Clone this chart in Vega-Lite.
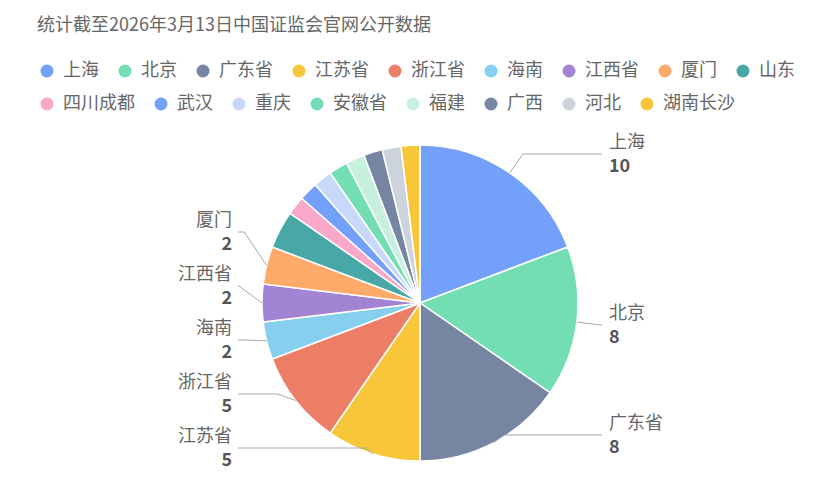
{
  "$schema": "https://vega.github.io/schema/vega-lite/v6.json",
  "autosize": {"type": "none"},
  "padding": {"top": 109, "left": 0, "right": 0, "bottom": 0},
  "width": 840,
  "height": 388,
  "background": "#ffffff",
  "title": {
    "text": "统计截至2026年3月13日中国证监会官网公开数据",
    "anchor": "start",
    "frame": "group",
    "orient": "top",
    "dx": 37,
    "offset": 27,
    "font": "Noto Sans CJK SC",
    "fontSize": 18,
    "fontWeight": "normal",
    "color": "#666666"
  },
  "data": {
    "values": [
      {"idx": 1, "name": "上海", "value": 10},
      {"idx": 2, "name": "北京", "value": 8},
      {"idx": 3, "name": "广东省", "value": 8},
      {"idx": 4, "name": "江苏省", "value": 5},
      {"idx": 5, "name": "浙江省", "value": 5},
      {"idx": 6, "name": "海南", "value": 2},
      {"idx": 7, "name": "江西省", "value": 2},
      {"idx": 8, "name": "厦门", "value": 2},
      {"idx": 9, "name": "山东", "value": 2},
      {"idx": 10, "name": "四川成都", "value": 1},
      {"idx": 11, "name": "武汉", "value": 1},
      {"idx": 12, "name": "重庆", "value": 1},
      {"idx": 13, "name": "安徽省", "value": 1},
      {"idx": 14, "name": "福建", "value": 1},
      {"idx": 15, "name": "广西", "value": 1},
      {"idx": 16, "name": "河北", "value": 1},
      {"idx": 17, "name": "湖南长沙", "value": 1}
    ]
  },
  "transform": [
    {"joinaggregate": [{"op": "sum", "field": "value", "as": "total"}]},
    {"window": [{"op": "sum", "field": "value", "as": "cum"}], "sort": [{"field": "idx", "order": "ascending"}], "frame": [null, 0]},
    {"calculate": "datum.cum - datum.value", "as": "cs"},
    {"calculate": "2 * PI * (datum.cum - datum.value / 2) / datum.total", "as": "ang"}
  ],
  "layer": [
    {
      "transform": [{"filter": "datum.idx <= 9"}],
      "mark": {"type": "arc", "outerRadius": 158, "stroke": "#ffffff", "strokeWidth": 1.5},
      "encoding": {
        "theta": {"field": "cum", "type": "quantitative", "stack": null, "scale": {"zero": true, "nice": false}},
        "theta2": {"field": "cs"},
        "fill": {
          "field": "name",
          "type": "nominal",
          "scale": {
            "domain": ["上海", "北京", "广东省", "江苏省", "浙江省", "海南", "江西省", "厦门", "山东"],
            "range": ["#73A0FA", "#73DEB3", "#7585A2", "#F7C739", "#EB7E65", "#87CFEF", "#A383D4", "#FDAA6A", "#48A8A8"]
          },
          "legend": {
            "orient": "none",
            "legendX": 38,
            "legendY": -47,
            "title": null,
            "direction": "horizontal",
            "symbolType": "circle",
            "symbolSize": 169,
            "symbolStrokeWidth": 0,
            "symbolOpacity": 1,
            "labelFont": "Noto Sans CJK SC",
            "labelFontSize": 18,
            "labelColor": "#666666",
            "labelOffset": 7,
            "columnPadding": 17,
            "labelLimit": 200
          }
        }
      }
    },
    {
      "transform": [{"filter": "datum.idx > 9"}],
      "mark": {"type": "arc", "outerRadius": 158, "stroke": "#ffffff", "strokeWidth": 1.5},
      "encoding": {
        "theta": {"field": "cum", "type": "quantitative", "stack": null},
        "theta2": {"field": "cs"},
        "color": {
          "field": "name",
          "type": "nominal",
          "scale": {
            "domain": ["四川成都", "武汉", "重庆", "安徽省", "福建", "广西", "河北", "湖南长沙"],
            "range": ["#F9A8C9", "#73A0FA", "#C8D8FA", "#73DEB3", "#C7F0DF", "#7585A2", "#CDD3DD", "#F7C739"]
          },
          "legend": {
            "orient": "none",
            "legendX": 38,
            "legendY": -14,
            "title": null,
            "direction": "horizontal",
            "symbolType": "circle",
            "symbolSize": 169,
            "symbolStrokeWidth": 0,
            "symbolOpacity": 1,
            "labelFont": "Noto Sans CJK SC",
            "labelFontSize": 18,
            "labelColor": "#666666",
            "labelOffset": 7,
            "columnPadding": 17,
            "labelLimit": 200
          }
        }
      }
    },
    {
      "transform": [
        {"filter": "datum.idx <= 8"},
        {"calculate": "158 * sin(datum.ang)", "as": "ex"},
        {"calculate": "158 * cos(datum.ang)", "as": "ey"},
        {"calculate": "181 * sin(datum.ang)", "as": "nx"},
        {"calculate": "181 * cos(datum.ang)", "as": "ny"},
        {"calculate": "datum.ang < PI ? 'R' : 'L'", "as": "side"},
        {"calculate": "datum.side == 'R' ? -datum.ang : datum.ang", "as": "skey"},
        {"window": [{"op": "rank", "as": "rk"}], "groupby": ["side"], "sort": [{"field": "skey", "order": "ascending"}]},
        {"calculate": "max(datum.ny, (datum.side == 'R' ? -132 : -145) + 54 * (datum.rk - 1))", "as": "ly"},
        {"calculate": "datum.side == 'R' ? 182 : -182", "as": "endx"},
        {"calculate": "datum.side == 'R' ? 189 : -188", "as": "tx"}
      ],
      "layer": [
        {
          "mark": {"type": "rule", "stroke": "#a8a8a8", "strokeWidth": 1},
          "encoding": {
            "x": {"field": "ex", "type": "quantitative", "scale": {"domain": [-420, 420], "nice": false, "zero": false}, "axis": null},
            "y": {"field": "ey", "type": "quantitative", "scale": {"domain": [-194, 194], "nice": false, "zero": false}, "axis": null},
            "x2": {"field": "nx"},
            "y2": {"field": "ly"}
          }
        },
        {
          "mark": {"type": "rule", "stroke": "#a8a8a8", "strokeWidth": 1},
          "encoding": {
            "x": {"field": "nx", "type": "quantitative"},
            "y": {"field": "ly", "type": "quantitative"},
            "x2": {"field": "endx"},
            "y2": {"field": "ly"}
          }
        },
        {
          "mark": {"type": "text", "font": "Noto Sans CJK SC", "fontSize": 18, "color": "#666666", "baseline": "middle", "dy": -11, "align": {"expr": "datum.side == 'R' ? 'left' : 'right'"}},
          "encoding": {
            "x": {"field": "tx", "type": "quantitative"},
            "y": {"field": "ly", "type": "quantitative"},
            "text": {"field": "name"}
          }
        },
        {
          "mark": {"type": "text", "font": "Noto Sans CJK SC", "fontSize": 18, "fontWeight": "bold", "color": "#555555", "baseline": "middle", "dy": 13, "align": {"expr": "datum.side == 'R' ? 'left' : 'right'"}},
          "encoding": {
            "x": {"field": "tx", "type": "quantitative"},
            "y": {"field": "ly", "type": "quantitative"},
            "text": {"field": "value"}
          }
        }
      ]
    }
  ],
  "config": {
    "view": {"stroke": null}
  }
}
